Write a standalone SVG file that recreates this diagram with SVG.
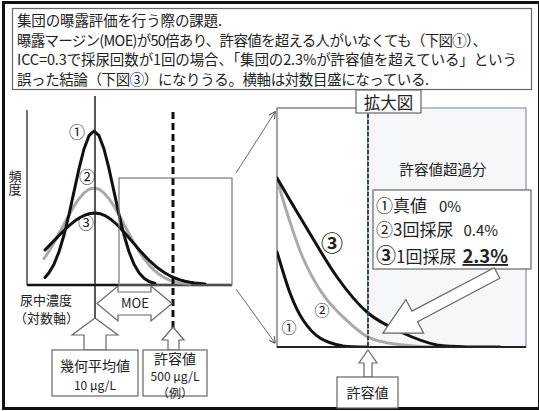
<svg xmlns="http://www.w3.org/2000/svg" width="539" height="411" viewBox="0 0 539 411">
<style>
text{font-family:"Noto Sans CJK JP","Liberation Sans",sans-serif;fill:#222}
.box{fill:#fff;stroke:#666;stroke-width:1.2}
.blk{fill:none;stroke:#111;stroke-width:3;stroke-linejoin:round;stroke-linecap:round}
.gry{fill:none;stroke:#aaa;stroke-width:3;stroke-linejoin:round;stroke-linecap:round}
.barrow{fill:#fff;stroke:#666;stroke-width:1.2;stroke-linejoin:miter}
.conn{fill:none;stroke:#666;stroke-width:1}
</style>
<defs>
<marker id="ah" viewBox="0 0 10 10" refX="9" refY="5" markerWidth="7" markerHeight="7" orient="auto" markerUnits="userSpaceOnUse">
<path d="M0,0 L10,5 L0,10" fill="none" stroke="#555" stroke-width="1.5"/>
</marker>
<clipPath id="bigclip"><rect x="277" y="108" width="249" height="239"/></clipPath>
</defs>
<rect x="0" y="0" width="539" height="411" fill="#fff"/>
<rect x="3.5" y="2.5" width="536" height="406" fill="none" stroke="#111" stroke-width="3"/>

<g id="title">
<rect class="box" x="12.5" y="8.5" width="519" height="81"/>
<text x="17" y="26" font-size="14.5" textLength="205">集団の曝露評価を行う際の課題.</text>
<text x="17" y="45.5" font-size="14.5" textLength="470">曝露マージン(MOE)が50倍あり、許容値を超える人がいなくても（下図①）、</text>
<text x="17" y="65" font-size="14.5" textLength="500">ICC=0.3で採尿回数が1回の場合、「集団の2.3%が許容値を超えている」という</text>
<text x="17" y="84.5" font-size="14.5" textLength="412">誤った結論（下図③）になりうる。横軸は対数目盛になっている.</text>
</g>

<g id="left-chart">
<line x1="27" y1="110" x2="27" y2="285" stroke="#444" stroke-width="1.5"/>
<line x1="27" y1="285" x2="232" y2="285" stroke="#111" stroke-width="2.5"/>
<text x="15" y="170" font-size="13" style="writing-mode:vertical-rl">頻度</text>
<text x="20" y="305" font-size="13">尿中濃度</text>
<text x="14" y="323" font-size="13">（対数軸）</text>
<polyline class="gry" points="44,258.6 49,251.2 54,242.8 59,233.7 64,224.3 69,214.9 74,206.2 79,198.7 84,192.9 89,189.3 94,188 99,189.3 104,192.9 109,198.7 114,206.2 119,214.9 124,224.3 129,233.7 134,242.8 139,251.2 144,258.6 149,264.9 154,270.1 159,274.2 164,277.4 169,279.8 174,281.5 179,282.7 184,283.6 190,284.3"/>
<polyline class="blk" points="45,250 50,244.9 55,239.6 60,234.5 65,229.5 70,224.9 75,220.8 80,217.5 85,215.1 90,213.5 95,213 100,213.7 105,215.6 110,218.7 115,222.8 120,227.7 125,233.2 130,239 135,244.9 140,250.7 145,256.1 150,261.2 155,265.7 160,269.6 165,273 170,275.8 175,278 180,279.9 185,281.3 190,282.3 195,283.1 205,284.1"/>
<polyline class="blk" points="45,277.5 49,272.7 54,264.2 59,251.7 64,235 69,214.5 74,191.6 79,168.7 84,149 89,135.7 94,131 99,135.7 104,149 109,168.7 114,191.6 119,214.5 124,235 129,251.7 134,264.2 139,272.7 144,278.2 149,281.5 155,283.5"/>
<line x1="95" y1="96" x2="95" y2="318" stroke="#222" stroke-width="1.5"/>
<line x1="173" y1="112" x2="173" y2="343" stroke="#111" stroke-width="3" stroke-dasharray="7,4"/>
<rect x="119" y="178" width="113" height="107" fill="none" stroke="#777" stroke-width="1.2"/>
<text x="77" y="138" font-size="16" text-anchor="middle">①</text>
<text x="87" y="183" font-size="16" text-anchor="middle">②</text>
<text x="86" y="229" font-size="16" text-anchor="middle">③</text>
</g>

<g id="moe">
<path class="barrow" d="M97,303.5 L118,286 L118,292 L151,292 L151,286 L172,303.5 L151,321 L151,315 L118,315 L118,321 Z"/>
<text x="135" y="308" font-size="13" text-anchor="middle">MOE</text>
</g>

<g id="gmean">
<path class="barrow" d="M95,318 L118,335 L106,335 L106,350 L84,350 L84,335 L72,335 Z"/>
<rect class="box" x="52" y="350" width="86" height="46"/>
<text x="95" y="371" font-size="14" text-anchor="middle">幾何平均値</text>
<text x="95" y="390" font-size="12" text-anchor="middle">10 μg/L</text>
</g>

<g id="limit-left">
<path class="barrow" d="M173,327 L184,340 L179,340 L179,350 L168,350 L168,340 L162,340 Z"/>
<rect class="box" x="143" y="350" width="64" height="46"/>
<text x="175" y="364" font-size="14" text-anchor="middle">許容値</text>
<text x="175" y="381" font-size="12" text-anchor="middle">500 μg/L</text>
<text x="175" y="398" font-size="12" text-anchor="middle">（例）</text>
</g>

<g id="connectors">
<line class="conn" x1="236" y1="173" x2="275" y2="112" marker-end="url(#ah)"/>
<line class="conn" x1="236" y1="289" x2="275" y2="343" marker-end="url(#ah)"/>
</g>

<g id="big-chart">
<rect x="277" y="108" width="91" height="239" fill="#fff" stroke="#666" stroke-width="1.2"/>
<rect x="368" y="108" width="158" height="239" fill="#f6f7f9" stroke="#8a94a6" stroke-width="1.2"/>
<g clip-path="url(#bigclip)">
<path class="gry" d="M277,180 C279.2,187 285.7,209 290,222 C294.3,235 298,246.7 303,258 C308,269.3 314.3,281.2 320,290 C325.7,298.8 329,303.2 337,311 C345,318.8 357,331.3 368,337 C379,342.7 391,343.3 403,345 C415,346.7 433.8,347 440,347"/>
<path class="blk" d="M277,178 C281.3,185.3 293,205.5 303,222 C313,238.5 326.2,261.8 337,277 C347.8,292.2 357,303.7 368,313 C379,322.3 391.5,327.7 403,333 C414.5,338.3 425.8,342.7 437,345 C448.2,346.5 459.5,346.7 470,347 L500,347"/>
<path class="blk" d="M277,252 C279.2,258.8 285.7,281.7 290,293 C294.3,304.3 298,312.5 303,320 C308,327.5 313.3,333.7 320,338 C326.7,342.3 335,344.5 343,346 C351,347 363.8,347 368,347"/>
</g>
<line x1="277" y1="347" x2="526" y2="347" stroke="#222" stroke-width="2"/>
<line x1="368" y1="108" x2="368" y2="347" stroke="#34465c" stroke-width="2" stroke-dasharray="4,2"/>
<text x="332" y="251" font-size="22" font-weight="bold" text-anchor="middle">③</text>
<text x="322" y="316" font-size="15" text-anchor="middle">②</text>
<text x="289" y="333" font-size="15" text-anchor="middle">①</text>
<text x="443" y="175" font-size="14.5" text-anchor="middle">許容値超過分</text>
</g>

<g id="zoom-label">
<rect class="box" x="356" y="90" width="65" height="23"/>
<text x="388.5" y="108.5" font-size="16.5" text-anchor="middle">拡大図</text>
</g>

<g id="legend">
<rect class="box" x="373" y="190" width="158" height="79"/>
<text x="376" y="212" font-size="17">①真値<tspan font-size="15" dx="12">0%</tspan></text>
<text x="376" y="236" font-size="17">②3回採尿<tspan font-size="15" dx="10">0.4%</tspan></text>
<text x="376" y="263" font-size="17"><tspan font-size="20" font-weight="bold">③</tspan>1回採尿<tspan font-size="18.5" font-weight="bold" text-decoration="underline" dx="6">2.3%</tspan></text>
</g>

<g id="big-arrow">
<path class="barrow" transform="translate(497,273) rotate(152.2)" d="M0,-6 L93,-6 L93,-19 L129,0 L93,19 L93,6 L0,6 Z"/>
</g>

<g id="limit-right">
<path class="barrow" d="M368,350 L377,363 L372,363 L372,377 L364,377 L364,363 L359,363 Z"/>
<rect class="box" x="337" y="377" width="61" height="31"/>
<text x="367.5" y="398" font-size="14" text-anchor="middle">許容値</text>
</g>
</svg>
